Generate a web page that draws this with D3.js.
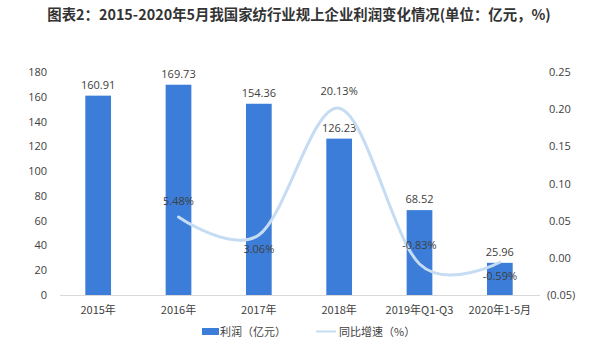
<!DOCTYPE html>
<html><head><meta charset="utf-8">
<script src="https://cdn.jsdelivr.net/npm/d3@7"></script>
<style>
body{margin:0;background:#fff;}
svg{display:block;font-family:"Noto Sans CJK SC","Noto Sans",sans-serif;}
</style></head>
<body><svg id="c" width="600" height="352"></svg>
<script>
const categories = ["2015年","2016年","2017年","2018年","2019年Q1-Q3","2020年1-5月"];
const profit = [160.91,169.73,154.36,126.23,68.52,25.96];
const growth = [null,0.0548,0.0306,0.2013,-0.0083,-0.0059];
const growthLabels = [null,"5.48%","3.06%","20.13%","-0.83%","-0.59%"];
const leftTicks = [0,20,40,60,80,100,120,140,160,180];
const rightTicks = [-0.05,0,0.05,0.10,0.15,0.20,0.25];
const titleText = "图表2：2015-2020年5月我国家纺行业规上企业利润变化情况(单位：亿元，%)";
const legendLabels = ["利润（亿元）","同比增速（%）"];

const svg = d3.select("#c");
const barColor = "#3b7dd8", lineColor = "#c5dcf3", txt = "#404040";
const x = d3.scaleBand().domain(categories).range([58,540]).paddingInner(0.68).paddingOuter(0.34);
const yL = d3.scaleLinear().domain([0,180]).range([295,72]);
const yR = d3.scaleLinear().domain([-0.05,0.25]).range([295,72]);

svg.append("text").attr("x",299).attr("y",20).attr("text-anchor","middle")
  .attr("font-size",14.4).attr("font-weight","bold").attr("fill","#333").text(titleText);

// left axis labels
svg.append("g").selectAll("text").data(leftTicks).join("text")
  .attr("x",47).attr("y",d=>yL(d)+4).attr("text-anchor","end")
  .attr("font-size",11).attr("fill",txt).attr("font-family","Open Sans, sans-serif").text(d=>d);
// right axis labels
const fmtR = d => d<0 ? "("+Math.abs(d).toFixed(2)+")" : d.toFixed(2);
svg.append("g").selectAll("text").data(rightTicks).join("text")
  .attr("x",d=>d<0?547:549).attr("y",d=>yR(d)+4).attr("text-anchor","start")
  .attr("font-size",11).attr("fill",txt).attr("font-family","Open Sans, sans-serif").text(fmtR);

// bars
svg.append("g").selectAll("rect").data(categories).join("rect")
  .attr("x",d=>x(d)).attr("width",x.bandwidth())
  .attr("y",(d,i)=>yL(profit[i])).attr("height",(d,i)=>yL(0)-yL(profit[i]))
  .attr("fill",barColor);

// baseline
svg.append("line").attr("x1",60).attr("x2",540).attr("y1",yL(0)+0.5).attr("y2",yL(0)+0.5)
  .attr("stroke","#d9d9d9").attr("stroke-width",1);

// bar labels
svg.append("g").selectAll("text").data(categories).join("text")
  .attr("x",d=>x(d)+x.bandwidth()/2).attr("y",(d,i)=>yL(profit[i])-7)
  .attr("text-anchor","middle").attr("font-size",11).attr("fill",txt)
  .attr("font-family","Open Sans, sans-serif").text((d,i)=>profit[i].toFixed(2));

// line
const pts = categories.map((c,i)=>({c,v:growth[i],l:growthLabels[i]})).filter(p=>p.v!==null);
const line = d3.line().x(p=>x(p.c)+x.bandwidth()/2).y(p=>yR(p.v)).curve(d3.curveCatmullRom.alpha(0));
svg.append("path").datum(pts).attr("d",line).attr("fill","none")
  .attr("stroke",lineColor).attr("stroke-width",3).attr("stroke-linecap","round");

// line labels
const off = {"5.48%":-12,"3.06%":18,"20.13%":-13,"-0.83%":-15,"-0.59%":18};
svg.append("g").selectAll("text").data(pts).join("text")
  .attr("x",p=>x(p.c)+x.bandwidth()/2).attr("y",p=>yR(p.v)+off[p.l])
  .attr("text-anchor","middle").attr("font-size",11).attr("fill",txt)
  .attr("font-family","Open Sans, sans-serif").text(p=>p.l);

// x labels
svg.append("g").selectAll("text").data(categories).join("text")
  .attr("x",d=>x(d)+x.bandwidth()/2).attr("y",314).attr("text-anchor","middle")
  .attr("font-size",11).attr("fill",txt).text(d=>d);

// legend
const lg = svg.append("g");
lg.append("rect").attr("x",202).attr("y",328).attr("width",17).attr("height",7).attr("fill",barColor);
lg.append("text").attr("x",220).attr("y",336).attr("font-size",11).attr("fill",txt).text(legendLabels[0]);
lg.append("line").attr("x1",316).attr("x2",336).attr("y1",331.5).attr("y2",331.5).attr("stroke",lineColor).attr("stroke-width",2);
lg.append("text").attr("x",339).attr("y",336).attr("font-size",11).attr("fill",txt).text(legendLabels[1]);
</script></body></html>
